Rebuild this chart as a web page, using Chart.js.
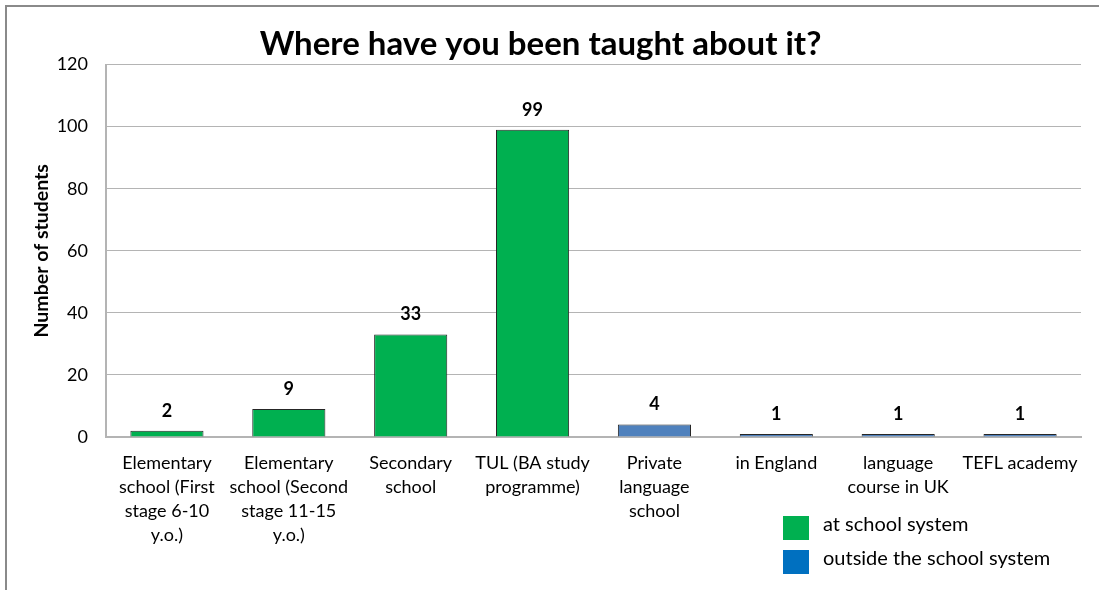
<!DOCTYPE html>
<html>
<head>
<meta charset="utf-8">
<script src="https://cdn.jsdelivr.net/npm/chart.js@4/dist/chart.umd.min.js"></script>
<style>
  html, body { margin: 0; padding: 0; background: #fff; }
  #wrap { width: 1099px; height: 590px; }
</style>
</head>
<body>
<div id="wrap"><canvas id="chart" width="1099" height="590"></canvas></div>
<script>
// ── data ──
const categories = [
  ['Elementary', 'school (First', 'stage 6-10', 'y.o.)'],
  ['Elementary', 'school (Second', 'stage 11-15', 'y.o.)'],
  ['Secondary', 'school'],
  ['TUL (BA study', 'programme)'],
  ['Private', 'language', 'school'],
  ['in England'],
  ['language', 'course in UK'],
  ['TEFL academy'],
];
const students = [2, 9, 33, 99, 4, 1, 1, 1];
const inSchool = [true, true, true, true, false, false, false, false];
const seriesNames = ['at school system', 'outside the school system'];
const yTicks = [0, 20, 40, 60, 80, 100, 120];

// ── styles ──
const FONT = "Lato, 'Open Sans', sans-serif";
const GREEN = '#00b050';
const BLUE = '#4f81bd';
const LEGEND_BLUE = '#0070c0';
const GRID = '#b4b4b4';

const schoolData = students.map((v, i) => (inSchool[i] ? v : null));
const outsideData = students.map((v, i) => (inSchool[i] ? null : v));

// grey frame along top and left edge
const framePlugin = {
  id: 'frame',
  beforeDraw(chart) {
    const { ctx } = chart;
    ctx.save();
    ctx.fillStyle = '#fff';
    ctx.fillRect(0, 0, chart.width, chart.height);
    ctx.strokeStyle = '#8a8a8a';
    ctx.lineWidth = 2;
    ctx.beginPath();
    ctx.moveTo(6, chart.height);
    ctx.lineTo(6, 6);
    ctx.lineTo(chart.width, 6);
    ctx.stroke();
    ctx.restore();
  },
};

// bold value labels above each bar
const valueLabels = {
  id: 'valueLabels',
  afterDatasetsDraw(chart) {
    const { ctx } = chart;
    ctx.save();
    ctx.font = `bold 18px ${FONT}`;
    ctx.fillStyle = '#000';
    ctx.textAlign = 'center';
    ctx.textBaseline = 'middle';
    chart.data.datasets.forEach((ds, di) => {
      chart.getDatasetMeta(di).data.forEach((el, i) => {
        const v = ds.data[i];
        if (v === null) return;
        ctx.fillText(String(v), el.x, el.y - 20);
      });
    });
    ctx.restore();
  },
};

// two-row legend in the lower right corner
const sideLegend = {
  id: 'sideLegend',
  afterDraw(chart) {
    const { ctx } = chart;
    const colors = [GREEN, LEGEND_BLUE];
    ctx.save();
    ctx.font = `20px ${FONT}`;
    ctx.textBaseline = 'middle';
    ctx.textAlign = 'left';
    chart.data.datasets.forEach((ds, i) => {
      const y = 528 + i * 34;
      ctx.fillStyle = colors[i];
      ctx.fillRect(783, y - 12, 26, 24);
      ctx.fillStyle = '#000';
      ctx.fillText(ds.label, 823, y - 3);
    });
    ctx.restore();
  },
};

new Chart(document.getElementById('chart'), {
  type: 'bar',
  data: {
    labels: categories,
    datasets: [
      {
        label: seriesNames[0],
        data: schoolData,
        backgroundColor: GREEN,
        borderColor: '#262626',
        borderWidth: 1,
        borderSkipped: 'bottom',
      },
      {
        label: seriesNames[1],
        data: outsideData,
        backgroundColor: BLUE,
        borderColor: '#262626',
        borderWidth: 1,
        borderSkipped: 'bottom',
      },
    ],
  },
  options: {
    responsive: false,
    animation: false,
    events: [],
    barPercentage: 0.6,
    categoryPercentage: 1,
    layout: { padding: { left: 0, right: 18, top: 0, bottom: 0 } },
    plugins: {
      legend: { display: false },
      tooltip: { enabled: false },
      title: {
        display: true,
        text: 'Where have you been taught about it?',
        color: '#000',
        font: { family: FONT, size: 33, weight: 'bold', lineHeight: 1.2 },
        padding: { top: 25, bottom: 0 },
      },
    },
    scales: {
      x: {
        stacked: true,
        grid: { display: false, drawTicks: false },
        border: { color: GRID, width: 2 },
        ticks: {
          color: '#000',
          font: { family: FONT, size: 18, lineHeight: 1.333 },
          padding: 14,
          maxRotation: 0,
          autoSkip: false,
        },
        afterFit(scale) { scale.height = 153; },
      },
      y: {
        stacked: true,
        min: 0,
        max: 120,
        afterBuildTicks(scale) { scale.ticks = yTicks.map(v => ({ value: v })); },
        grid: { color: GRID, lineWidth: 1, drawTicks: false },
        border: { color: GRID, width: 2 },
        ticks: {
          color: '#000',
          font: { family: FONT, size: 18 },
          padding: 18,
        },
        title: {
          display: true,
          text: 'Number of students',
          color: '#000',
          font: { family: FONT, size: 19.5, weight: 'bold', lineHeight: 1.2 },
          padding: { top: 30, bottom: 0 },
        },
        afterFit(scale) { scale.width = 106; },
      },
    },
  },
  plugins: [framePlugin, valueLabels, sideLegend],
});
</script>
</body>
</html>
